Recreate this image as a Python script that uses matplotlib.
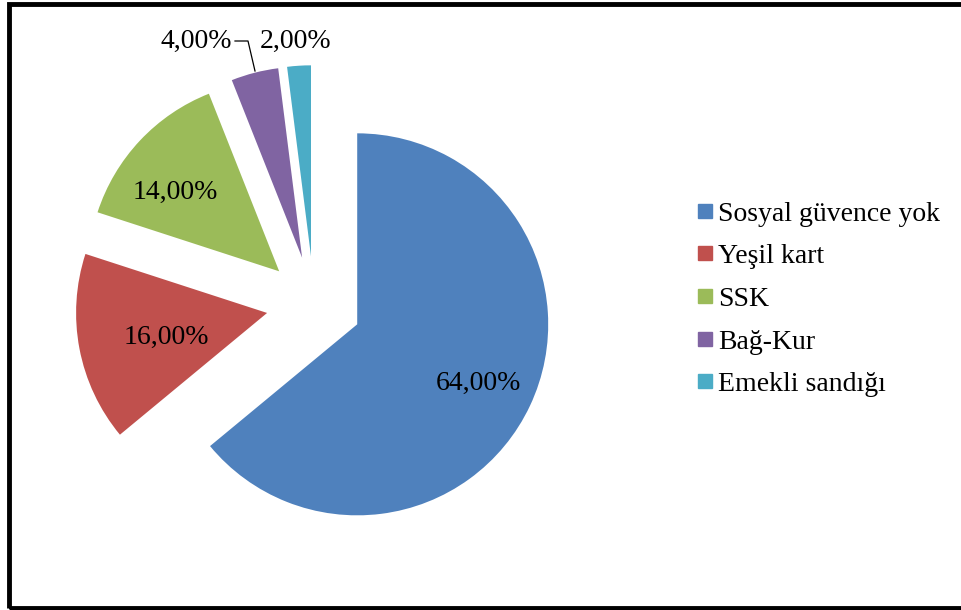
import numpy as np
import matplotlib
matplotlib.use("Agg")
import matplotlib.pyplot as plt
from matplotlib.patches import Rectangle
from matplotlib.lines import Line2D

# veri
categories = ["Sosyal güvence yok", "Yeşil kart", "SSK", "Bağ-Kur", "Emekli sandığı"]
values = [64.0, 16.0, 14.0, 4.0, 2.0]
labels = ["64,00%", "16,00%", "14,00%", "4,00%", "2,00%"]
colors = ["#4F81BD", "#C0504D", "#9BBB59", "#8064A2", "#4BACC6"]

plt.rcParams['font.family'] = ['Liberation Serif', 'DejaVu Serif']

W, H = 961, 610
fig = plt.figure(figsize=(W / 100, H / 100), dpi=100)

# pie axes: center ~ (314, 304) px, radius ~ 191 px
R = 191.0
cx, cy = 314.0, H - 304.0
lim = 1.55
ax = fig.add_axes([(cx - lim * R) / W, (cy - lim * R) / H, 2 * lim * R / W, 2 * lim * R / H])
wedges, _ = ax.pie(values, colors=colors, startangle=90, counterclock=False,
                   explode=[0.25] * 5, radius=1.0)
ax.set_xlim(-lim, lim)
ax.set_ylim(-lim, lim)
ax.set_aspect('auto')
ax.axis('off')

fs = 20

# etiketler (iç) - uzaklık + küçük kaydırma (px)
inner_dist = [0.70, 0.52, 0.67]
nudge = [(0, -2), (-3, -6), (-11, -9)]
for w, lab, d, (nx, ny) in zip(wedges[:3], labels[:3], inner_dist, nudge):
    th = np.deg2rad((w.theta1 + w.theta2) / 2)
    x0, y0 = w.center
    ax.text(x0 + d * np.cos(th) + nx / R, y0 + d * np.sin(th) + ny / R, lab,
            ha='center', va='center', fontsize=fs, color='black')

# dış etiketler
def px(x, y):
    return (x - cx) / R, (304.0 - y) / R

ax.text(*px(196, 41), labels[3], ha='center', va='center', fontsize=fs)
ax.text(*px(296, 41), labels[4], ha='center', va='center', fontsize=fs)
lx, ly = zip(px(235, 41), px(248, 41), px(255, 71))
ax.plot(lx, ly, color='black', lw=0.9)

# legend
handles = [Line2D([0], [0], marker='s', color='none', markerfacecolor=c,
                  markeredgecolor=c, markersize=10) for c in colors]
fig.legend(handles, categories, loc='upper left', bbox_to_anchor=(686 / W, 1 - 190 / H),
           frameon=False, fontsize=fs, handlelength=0.6, handletextpad=0.15,
           labelspacing=0.62, borderaxespad=0)

# çerçeve
fig.patches.append(Rectangle((9 / W, 2 / H), 970 / W, 604 / H, transform=fig.transFigure,
                             fill=False, edgecolor='black', lw=3.5))

plt.savefig("out.png", dpi=100)
